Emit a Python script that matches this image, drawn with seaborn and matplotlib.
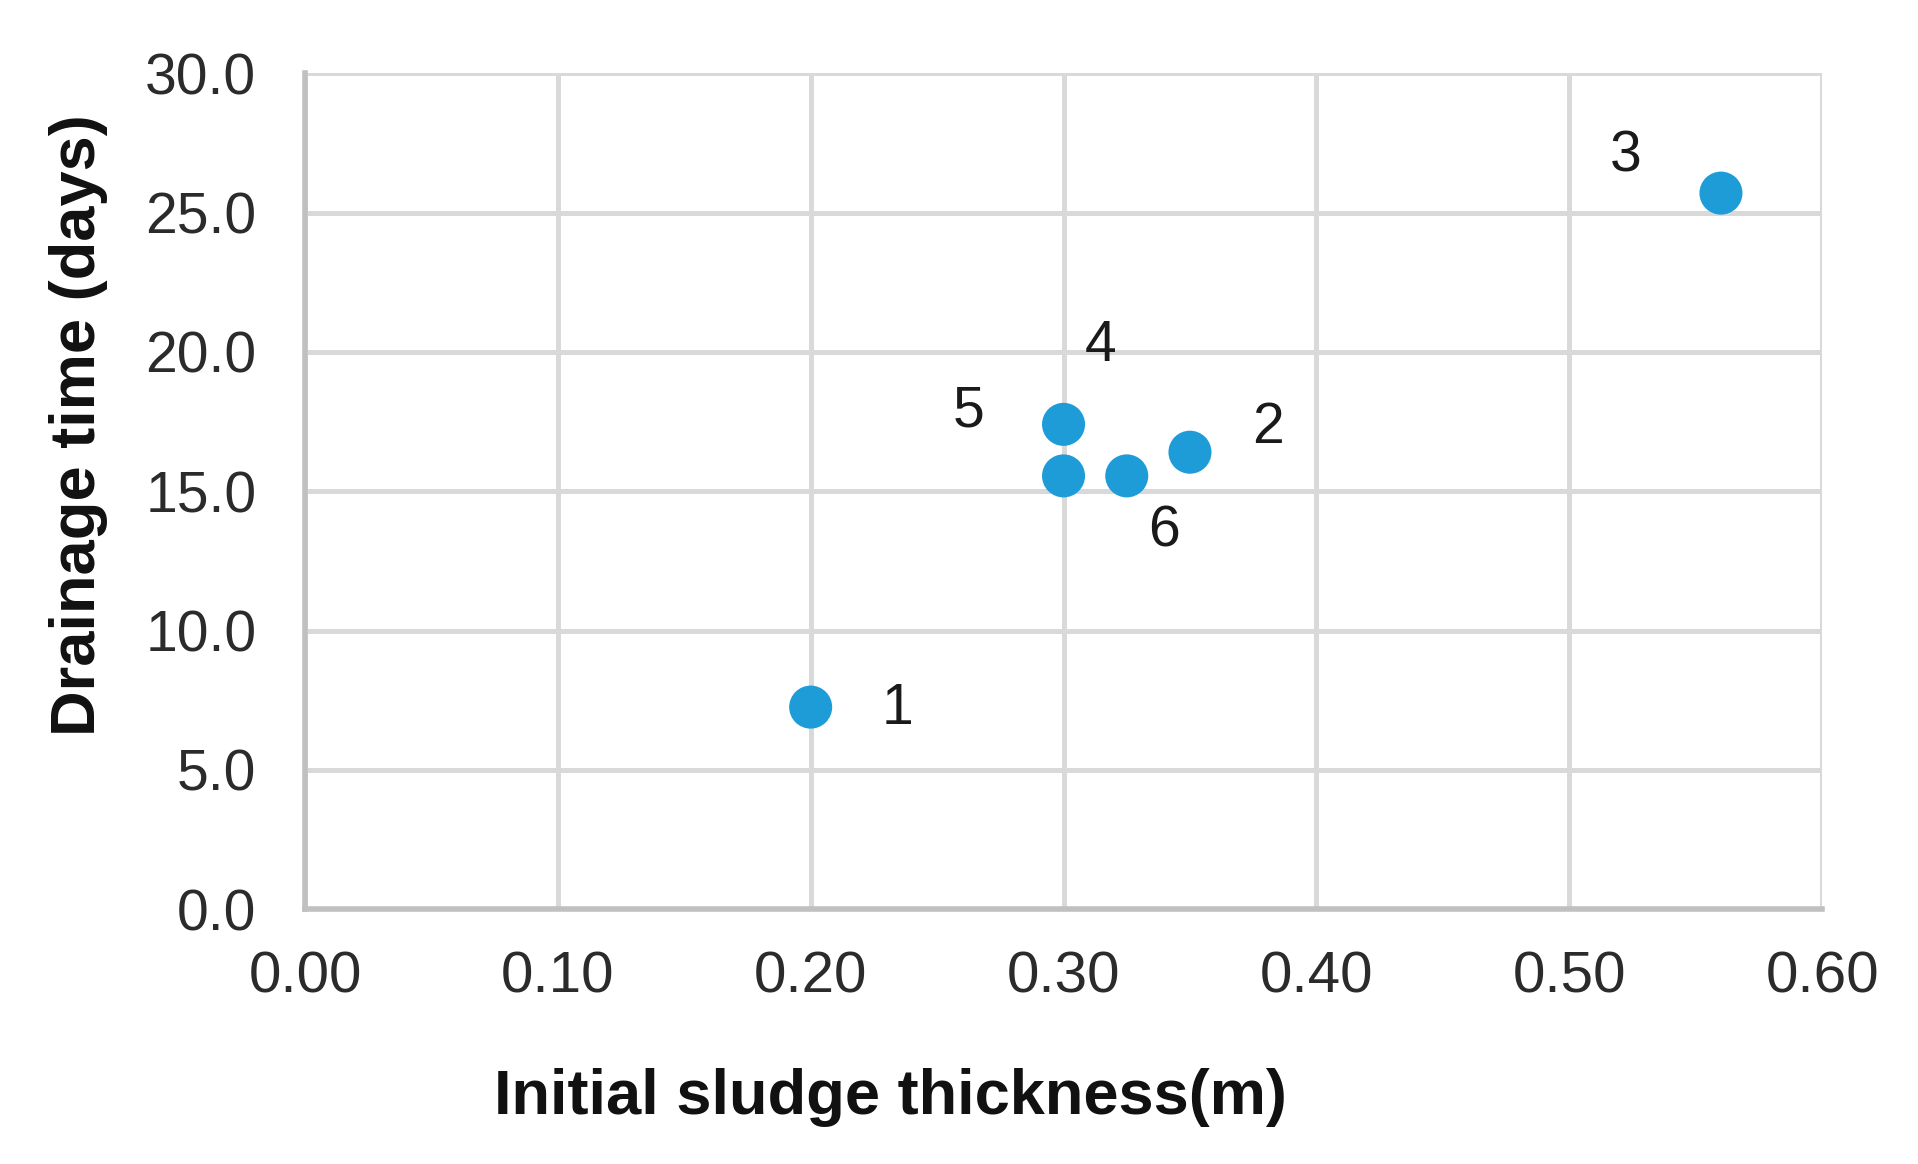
import matplotlib
matplotlib.use("Agg")
import matplotlib.pyplot as plt
import seaborn as sns
import pandas as pd

# Drainage time vs initial sludge thickness, six test beds
bed_ids = ['1', '2', '3', '4', '5', '6']
thickness = [0.20, 0.35, 0.56, 0.30, 0.30, 0.325]   # m
drain_days = [7.25, 16.4, 25.7, 17.4, 15.55, 15.55]  # days

# where each data label sits relative to its point (pixels)
label_dx = [87, 78, -95, 37, -95, 37]
label_dy = [-2, 24, 37, 78, 64, -56]

df = pd.DataFrame({'bed': bed_ids, 'thickness': thickness, 'days': drain_days})

sns.set_style('white')
plt.rcParams['font.family'] = ['Liberation Sans', 'DejaVu Sans']

fig = plt.figure(figsize=(19.18, 11.64), dpi=100)
ax = fig.add_axes([0.159, 0.219, 0.791, 0.718])

sns.scatterplot(data=df, x='thickness', y='days', ax=ax, s=960,
                color='#1e9cd8', edgecolor='none', zorder=3)

for i, row in df.iterrows():
    ax.annotate(row['bed'], (row['thickness'], row['days']),
                xytext=(label_dx[i], label_dy[i]), textcoords='offset pixels',
                ha='center', va='center', fontsize=41, color='#1a1a1a', zorder=4)

ax.set_xlim(0, 0.60)
ax.set_ylim(0, 30)
ax.set_xticks([0.0, 0.1, 0.2, 0.3, 0.4, 0.5, 0.6])
ax.set_yticks([0, 5, 10, 15, 20, 25, 30])
ax.set_xticklabels([f'{v:.2f}' for v in ax.get_xticks()])
ax.set_yticklabels([f'{v:.1f}' for v in ax.get_yticks()])

ax.grid(True, color='#d9d9d9', linewidth=3.6)
ax.set_axisbelow(True)
for side in ['top', 'right']:
    ax.spines[side].set_visible(False)
for side in ['left', 'bottom']:
    ax.spines[side].set_color('#c0c0c0')
    ax.spines[side].set_linewidth(4.0)

ax.tick_params(axis='x', length=0, pad=30, labelsize=42, labelcolor='#2b2b2b')
ax.tick_params(axis='y', length=0, pad=35, labelsize=41, labelcolor='#2b2b2b')

ax.set_xlabel('Initial sludge thickness(m)', fontsize=45.5, fontweight='bold',
              va='center', color='#111111')
ax.xaxis.set_label_coords(0.386, -0.225)
ax.set_ylabel('Drainage time (days)', fontsize=45.5, fontweight='bold',
              va='center', ha='center', color='#111111')
ax.yaxis.set_label_coords(-0.149, 0.579)

fig.savefig('out.png', dpi=100)
